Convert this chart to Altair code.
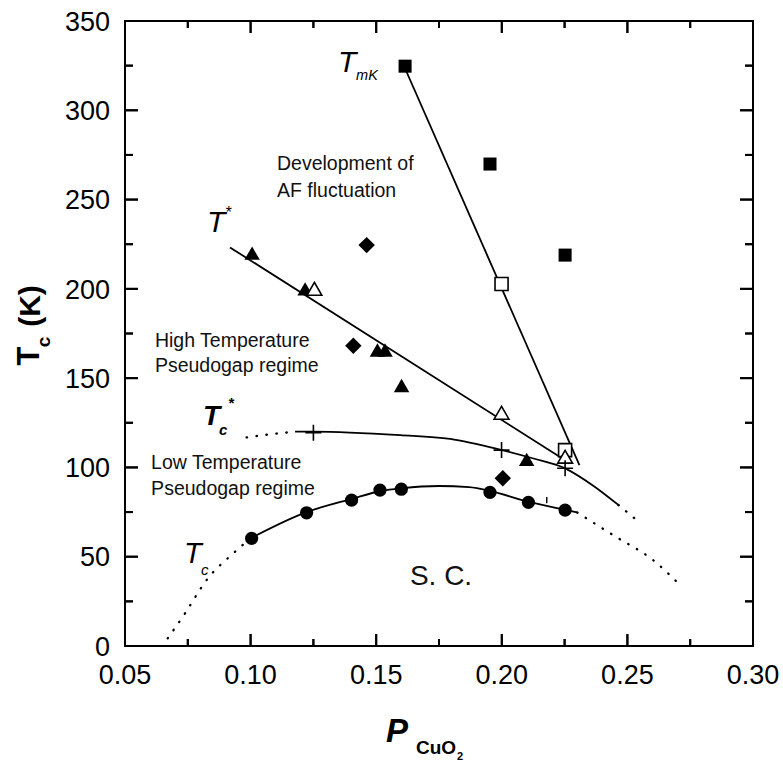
import altair as alt
import pandas as pd

FONT = "Liberation Sans"

# ---------------- data ----------------
# T_c : filled circles
tc_p = [0.1004, 0.1223, 0.1402, 0.1515, 0.1600, 0.1953, 0.2106, 0.2252]
tc_T = [60.3, 74.6, 81.7, 87.3, 87.8, 86.0, 80.4, 76.1]
# T_mK : filled squares
tmk_p = [0.1615, 0.1953, 0.2252]
tmk_T = [324.7, 269.9, 218.9]
# open squares
osq_p = [0.1999, 0.2252]
osq_T = [202.7, 109.7]
# filled diamonds
dia_p = [0.1462, 0.1409, 0.2004]
dia_T = [224.5, 168.1, 93.9]
# filled triangles
tri_p = [0.1006, 0.1217, 0.1505, 0.1535, 0.1601, 0.2099]
tri_T = [220.0, 200.0, 165.8, 165.8, 145.9, 104.5]
# open triangles
otri_p = [0.1254, 0.1999, 0.2252]
otri_T = [200.0, 130.6, 106.0]
# crosses (T_c*)
plus_p = [0.125, 0.1999, 0.2252]
plus_T = [119.4, 109.7, 99.5]
small_plus_p = [0.2179]
small_plus_T = [81.7]

# guide curves
tcl_p = [0.100, 0.122, 0.140, 0.152, 0.160, 0.175, 0.187, 0.196, 0.210, 0.225, 0.230]
tcl_T = [60.3, 74.8, 82.3, 86.8, 88.3, 89.6, 89.0, 86.6, 81.0, 76.3, 74.8]
tcd_lo_p = [0.067, 0.0739, 0.0825, 0.0931, 0.100]
tcd_lo_T = [4.3, 18.3, 37.0, 51.9, 60.3]
tcd_hi_p = [0.230, 0.2444, 0.2603, 0.2716]
tcd_hi_T = [74.8, 62.0, 48.0, 33.2]
tcs_p = [0.1177, 0.125, 0.1595, 0.1794, 0.1993, 0.2126, 0.2252, 0.2364, 0.2464]
tcs_T = [120.0, 120.1, 118.1, 116.0, 110.0, 105.0, 99.5, 89.8, 79.0]
tcsd_lo_p = [0.0984, 0.108, 0.1177]
tcsd_lo_T = [116.8, 118.6, 120.0]
tcsd_hi_p = [0.2464, 0.2537]
tcsd_hi_T = [79.0, 70.5]
tstar_p = [0.0918, 0.2271]
tstar_T = [223.2, 102.3]
tmkl_p = [0.1615, 0.2309]
tmkl_T = [323.4, 101.3]

# axis ticks / labels
x_labels = [0.05, 0.10, 0.15, 0.20, 0.25, 0.30]
x_label_text = ["0.05", "0.10", "0.15", "0.20", "0.25", "0.30"]
y_labels = [0, 50, 100, 150, 200, 250, 300, 350]
y_label_text = ["0", "50", "100", "150", "200", "250", "300", "350"]
x_major = [0.10, 0.15, 0.20, 0.25]
x_minor = [0.075, 0.125, 0.175, 0.225, 0.275]
y_major = [50, 100, 150, 200, 250, 300]
y_minor = [25, 75, 125, 175, 225, 275, 325]

# annotations (text, position in data units)
ann_text = ["Development of", "AF fluctuation", "High Temperature", "Pseudogap regime",
            "Low Temperature", "Pseudogap regime"]
ann_p = [0.1105, 0.1105, 0.0619, 0.0619, 0.0604, 0.0604]
ann_T = [266.6, 251.7, 167.6, 153.6, 98.95, 84.3]

sc_text = ["S. C."]
sc_p = [0.1758]
sc_T = [34.2]

ital_text = ["T", "mK", "T", "*", "T", "c"]
ital_p = [0.1348, 0.1420, 0.0826, 0.0898, 0.0735, 0.0803]
ital_T = [321.4, 317.0, 231.8, 239.7, 46.5, 39.8]
ital_size = [30, 14.5, 30, 16, 29, 15]

bi_text = ["T", "c", "*"]
bi_p = [0.0811, 0.0874, 0.0910]
bi_T = [123.8, 118.2, 133.3]
bi_size = [28, 15, 15]

# ---------------- chart ----------------
W, H = 628, 625
XMIN, XMAX = 0.05, 0.30
YMIN, YMAX = 0, 350
XS = alt.Scale(domain=[XMIN, XMAX], nice=False, zero=False)
YS = alt.Scale(domain=[YMIN, YMAX], nice=False, zero=False)


def X(f="p"):
    return alt.X(f"{f}:Q", scale=XS, axis=None)


def Y(f="T"):
    return alt.Y(f"{f}:Q", scale=YS, axis=None)


layers = []


def curve_df(segs):
    rows = []
    for name, ps, ts in segs:
        for i, (p, t) in enumerate(zip(ps, ts)):
            rows.append({"seg": name, "i": i, "p": p, "T": t})
    return pd.DataFrame(rows)


solid_curves = curve_df([("tc", tcl_p, tcl_T), ("tcs", tcs_p, tcs_T)])
straight = curve_df([("tstar", tstar_p, tstar_T), ("tmk", tmkl_p, tmkl_T)])
dotted = curve_df([("a", tcd_lo_p, tcd_lo_T), ("b", tcd_hi_p, tcd_hi_T),
                   ("c", tcsd_lo_p, tcsd_lo_T), ("d", tcsd_hi_p, tcsd_hi_T)])

layers.append(alt.Chart(solid_curves).mark_line(color="black", strokeWidth=1.8,
                                                interpolate="monotone").encode(
    x=X(), y=Y(), detail="seg:N", order="i:Q"))
layers.append(alt.Chart(straight).mark_line(color="black", strokeWidth=1.8).encode(
    x=X(), y=Y(), detail="seg:N", order="i:Q"))
layers.append(alt.Chart(dotted).mark_line(color="black", strokeWidth=2.3, strokeDash=[0.5, 9.5],
                                          strokeCap="round", interpolate="monotone").encode(
    x=X(), y=Y(), detail="seg:N", order="i:Q"))

# inward frame ticks, drawn as short two-point line segments
# (tick lengths are pixel styles converted to data units)
py = (YMAX - YMIN) / H
px = (XMAX - XMIN) / W
tick_segs = []
for vals, ln in ((x_major, 12), (x_minor, 7)):
    for v in vals:
        tick_segs.append((f"b{v}", [v, v], [YMIN, YMIN + ln * py]))
        tick_segs.append((f"t{v}", [v, v], [YMAX, YMAX - ln * py]))
for vals, ln in ((y_major, 13), (y_minor, 8)):
    for v in vals:
        tick_segs.append((f"l{v}", [XMIN, XMIN + ln * px], [v, v]))
        tick_segs.append((f"r{v}", [XMAX, XMAX - ln * px], [v, v]))
ticks_df = curve_df(tick_segs)
layers.append(alt.Chart(ticks_df).mark_line(color="black", strokeWidth=2).encode(
    x=X(), y=Y(), detail="seg:N", order="i:Q"))


def pts(ps, ts, **kw):
    d = pd.DataFrame({"p": ps, "T": ts})
    return alt.Chart(d).mark_point(**kw).encode(x=X(), y=Y())


layers.append(pts(tc_p, tc_T, shape="circle", size=175, filled=True, color="black", opacity=1))
layers.append(pts(tmk_p, tmk_T, shape="square", size=170, filled=True, color="black", opacity=1))
layers.append(pts(osq_p, osq_T, shape="square", size=170, filled=True, fill="white",
                  stroke="black", strokeWidth=1.6, opacity=1))
layers.append(pts(dia_p, dia_T, shape="diamond", size=270, filled=True, color="black", opacity=1))
layers.append(pts(tri_p, tri_T, shape="triangle-up", size=240, filled=True, color="black", opacity=1))
layers.append(pts(otri_p, otri_T, shape="triangle-up", size=220, filled=True, fill="white",
                  stroke="black", strokeWidth=1.6, opacity=1))
layers.append(pts(plus_p, plus_T, shape="M-1,0L1,0M0,-1L0,1", size=256, filled=False,
                  color="black", strokeWidth=1.6, opacity=1))
layers.append(pts(small_plus_p, small_plus_T, shape="M0,-1L0,1", size=40, filled=False,
                  color="black", strokeWidth=1.4, opacity=1))

# tick labels (positioned through the scales)
layers.append(alt.Chart(pd.DataFrame({"p": x_labels, "t": x_label_text})).mark_text(
    align="center", baseline="alphabetic", font=FONT, fontSize=27, color="black").encode(
    x=X(), y=alt.value(H + 38), text="t:N"))
layers.append(alt.Chart(pd.DataFrame({"T": y_labels, "t": y_label_text})).mark_text(
    align="right", baseline="alphabetic", dy=9.7, font=FONT, fontSize=27, color="black").encode(
    y=Y(), x=alt.value(-15), text="t:N"))

# annotations
layers.append(alt.Chart(pd.DataFrame({"t": ann_text, "p": ann_p, "T": ann_T})).mark_text(
    align="left", baseline="alphabetic", font=FONT, fontSize=19.5, color="#111").encode(
    x=X(), y=Y(), text="t:N"))
layers.append(alt.Chart(pd.DataFrame({"t": sc_text, "p": sc_p, "T": sc_T})).mark_text(
    align="center", baseline="alphabetic", font=FONT, fontSize=28, color="#111").encode(
    x=X(), y=Y(), text="t:N"))
layers.append(alt.Chart(pd.DataFrame({"t": ital_text, "p": ital_p, "T": ital_T, "s": ital_size})).mark_text(
    align="left", baseline="alphabetic", font=FONT, fontStyle="italic", color="black").encode(
    x=X(), y=Y(), text="t:N", size=alt.Size("s:Q", scale=None, legend=None)))
layers.append(alt.Chart(pd.DataFrame({"t": bi_text, "p": bi_p, "T": bi_T, "s": bi_size})).mark_text(
    align="left", baseline="alphabetic", font=FONT, fontStyle="italic", fontWeight="bold",
    color="black").encode(
    x=X(), y=Y(), text="t:N", size=alt.Size("s:Q", scale=None, legend=None)))


# axis titles (placed in pixels outside the plot area)
def ptext(txt, x, y, **kw):
    return alt.Chart(pd.DataFrame({"t": [txt]})).mark_text(font=FONT, color="black", **kw).encode(
        text="t:N", x=alt.value(x), y=alt.value(y))


layers.append(ptext("T", -86, 335, angle=270, align="center", baseline="alphabetic",
                    fontSize=31, fontWeight="bold"))
layers.append(ptext("c", -75, 321, angle=270, align="center", baseline="alphabetic",
                    fontSize=19, fontWeight="bold"))
layers.append(ptext("(K)", -85, 285, angle=270, align="center", baseline="alphabetic",
                    fontSize=30, fontWeight="bold"))
layers.append(ptext("P", 261, 721, align="left", baseline="alphabetic", fontSize=33,
                    fontWeight="bold", fontStyle="italic"))
layers.append(ptext("CuO", 291, 733, align="left", baseline="alphabetic", fontSize=19,
                    fontWeight="bold"))
layers.append(ptext("2", 332, 739, align="left", baseline="alphabetic", fontSize=11,
                    fontWeight="bold"))

# frame ticks once more as rules on top (identical position; whichever renders shows)
for vals, ln in ((x_major, 12), (x_minor, 7)):
    d = pd.DataFrame({"p": vals})
    layers.append(alt.Chart(d).mark_rule(color="black", strokeWidth=2).encode(
        x=X(), y=alt.value(H), y2=alt.value(H - ln)))
    layers.append(alt.Chart(d).mark_rule(color="black", strokeWidth=2).encode(
        x=X(), y=alt.value(0), y2=alt.value(ln)))
for vals, ln in ((y_major, 13), (y_minor, 8)):
    d = pd.DataFrame({"T": vals})
    layers.append(alt.Chart(d).mark_rule(color="black", strokeWidth=2).encode(
        y=Y(), x=alt.value(0), x2=alt.value(ln)))
    layers.append(alt.Chart(d).mark_rule(color="black", strokeWidth=2).encode(
        y=Y(), x=alt.value(W), x2=alt.value(W - ln)))

chart = alt.layer(*layers).properties(
    width=W, height=H,
    autosize=alt.AutoSizeParams(type="none"),
    padding={"left": 125, "top": 21, "right": 30, "bottom": 118},
    background="white",
).configure_view(stroke="black", strokeWidth=2)

chart.save("out.html", embed_options={"renderer": "svg", "actions": False})
